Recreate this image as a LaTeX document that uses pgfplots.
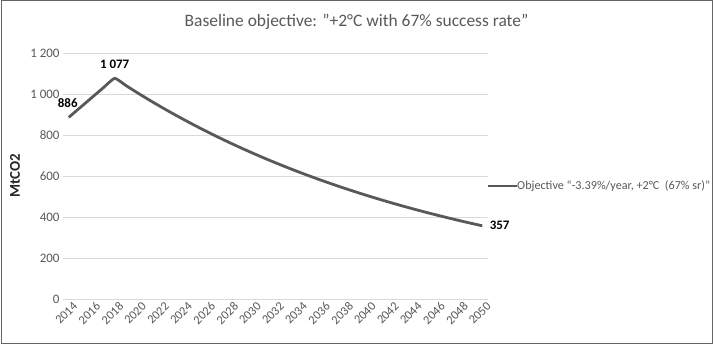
\documentclass[border=0pt]{standalone}
\usepackage{fontspec}
\setmainfont{Carlito}
\usepackage{pgfplots}
\pgfplotsset{compat=1.18}
\definecolor{linegray}{RGB}{89,89,89}
\definecolor{txtgray}{RGB}{89,89,89}
\definecolor{gridgray}{RGB}{217,217,217}
\begin{document}
\begin{tikzpicture}[x=1bp,y=1bp]
\clip (0,0) rectangle (713,347);
\fill[white] (0,0) rectangle (713,347);
\draw[color=gray!80!black, line width=1bp] (1,4) rectangle (712,346);
\node[text=txtgray, font=\fontsize{17.5}{20}\selectfont] at (356.5,325) {Baseline objective: \symbol{34}+2°C with 67\% success rate\symbol{34}};
\node[rotate=90, font=\fontsize{15}{17}\selectfont\bfseries, text=black!85] at (15,171) {MtCO2};
\begin{axis}[
  at={(63bp,48bp)}, anchor=south west,
  scale only axis, width=425bp, height=246bp,
  xmin=2013.5, xmax=2050.5, ymin=0, ymax=1200,
  axis line style={draw=none},
  xtick={2014,2016,...,2050},
  ytick={0,200,...,1200},
  yticklabels={0,200,400,600,800,1 000,1 200},
  xticklabel style={rotate=45, anchor=north east, font=\fontsize{12.5}{14}\selectfont, text=txtgray, inner sep=1bp, yshift=-3bp, xshift=2bp},
  yticklabel style={font=\fontsize{13}{15}\selectfont, text=txtgray},
  /pgf/number format/assume math mode=true,
  /pgf/number format/1000 sep={},
  ymajorgrids, grid style={gridgray, line width=0.8bp},
  major tick length=0pt,
  clip=false,
]
\addplot[linegray, line width=2.8bp, mark=none, line join=round, smooth, tension=0.25] coordinates {
(2014,886) (2015,934) (2016,982) (2017,1030) (2018,1077)
(2019,1040.5) (2020,1005.2) (2021,971.1) (2022,938.2) (2023,906.4)
(2024,875.7) (2025,846.0) (2026,817.3) (2027,789.6) (2028,762.8)
(2029,737.0) (2030,712.0) (2031,687.8) (2032,664.5) (2033,642.0)
(2034,620.2) (2035,599.2) (2036,578.9) (2037,559.3) (2038,540.3)
(2039,522.0) (2040,504.3) (2041,487.2) (2042,470.7) (2043,454.7)
(2044,439.3) (2045,424.4) (2046,410.0) (2047,396.1) (2048,382.7)
(2049,369.7) (2050,357.2)
};
\node[font=\fontsize{13}{15}\selectfont\bfseries, anchor=south, yshift=6bp, xshift=-1bp] at (axis cs:2014,886) {886};
\node[font=\fontsize{13}{15}\selectfont\bfseries, anchor=south, yshift=6bp] at (axis cs:2018,1077) {1 077};
\node[font=\fontsize{13}{15}\selectfont\bfseries, anchor=west, xshift=4bp] at (axis cs:2050,357.2) {357};
\end{axis}
\draw[linegray, line width=2.8bp] (488,161) -- (517,161);
\node[anchor=west, inner sep=0pt, text=txtgray, font=\fontsize{12.2}{14}\selectfont] at (517,161) {Objective “-3.39\%/year, +2°C~ (67\% sr)”};
\end{tikzpicture}
\end{document}
